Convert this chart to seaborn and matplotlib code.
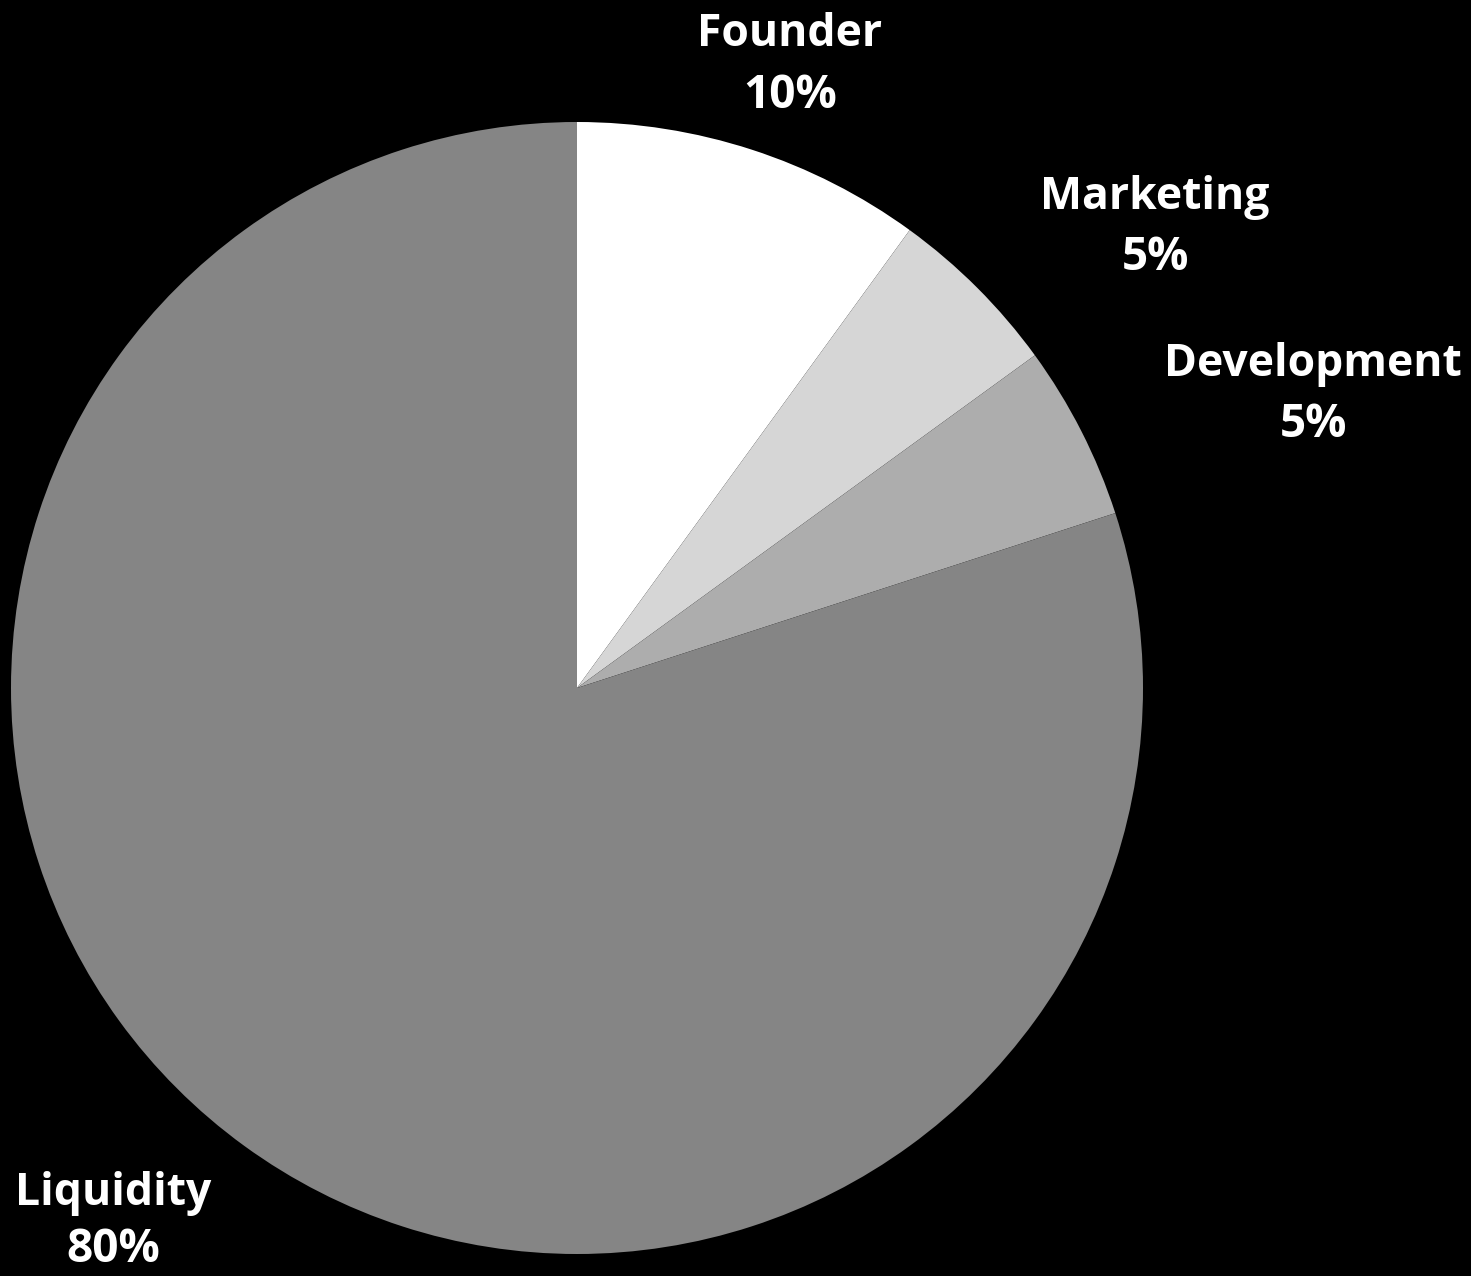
import matplotlib
matplotlib.use("Agg")
import matplotlib.pyplot as plt
import seaborn as sns

sns.set_theme(style="white")
plt.rcParams['font.family'] = ['Open Sans', 'DejaVu Sans']

# token allocation
labels = ["Founder", "Marketing", "Development", "Liquidity"]
values = [10, 5, 5, 80]
pct_labels = ["10%", "5%", "5%", "80%"]
colors = ["#ffffff", "#d6d6d6", "#adadad", "#858585"]

# label centres in figure pixels (x, name line y from top, pct line y from top)
label_pos = [(790, 35, 96), (1155, 198, 258), (1313, 364, 425), (113, 1194, 1250)]

W, H = 1471, 1276
fig = plt.figure(figsize=(W / 100, H / 100), dpi=100, facecolor="black")

cx, cy, r = 577, 688, 566
ax = fig.add_axes([(cx - r) / W, (H - cy - r) / H, 2 * r / W, 2 * r / H])
ax.set_facecolor("black")
ax.pie(values, colors=colors, startangle=90, counterclock=False,
       radius=1, wedgeprops=dict(linewidth=0))
ax.set_xlim(-1, 1)
ax.set_ylim(-1, 1)
ax.axis("off")

for name, pct, (x, y1, y2) in zip(labels, pct_labels, label_pos):
    fig.text(x / W, 1 - y1 / H, name, color="white", fontsize=32,
             fontweight="bold", ha="center", va="center")
    fig.text(x / W, 1 - y2 / H, pct, color="white", fontsize=33,
             fontweight="bold", ha="center", va="center")

fig.savefig("out.png", dpi=100, facecolor="black")
